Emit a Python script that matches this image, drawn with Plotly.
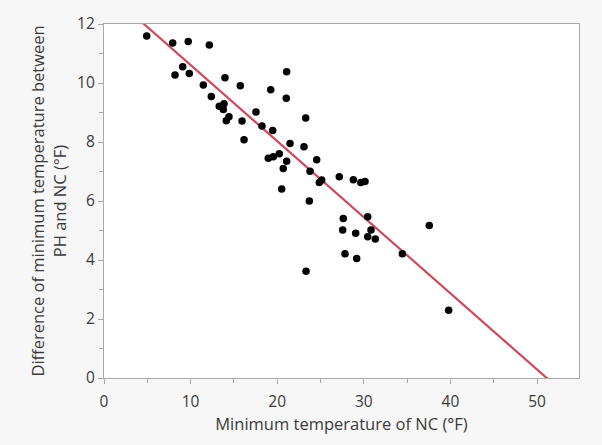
import plotly.graph_objects as go

nc_min_temp = [4.93, 7.93, 9.73, 12.16, 8.20, 9.09, 9.85, 11.47, 13.97, 15.74,
               12.39, 19.25, 21.09, 21.05, 13.31, 13.78, 13.86, 14.43, 14.12, 15.94,
               17.55, 18.24, 19.48, 23.29, 16.17, 21.48, 23.09, 18.97, 19.55, 20.24,
               21.09, 20.70, 24.56, 23.79, 25.14, 24.86, 20.52, 23.71, 27.17, 28.79,
               29.65, 30.14, 27.63, 30.45, 27.56, 30.83, 29.06, 30.45, 31.33, 37.56,
               27.83, 29.18, 34.45, 23.33, 39.80]
diff_min_temp = [11.59, 11.36, 11.41, 11.29, 10.27, 10.55, 10.32, 9.93, 10.18, 9.91,
                 9.54, 9.77, 10.38, 9.48, 9.21, 9.10, 9.30, 8.86, 8.72, 8.71,
                 9.02, 8.54, 8.39, 8.81, 8.08, 7.95, 7.84, 7.45, 7.50, 7.60,
                 7.35, 7.10, 7.40, 7.01, 6.71, 6.63, 6.41, 6.00, 6.82, 6.72,
                 6.63, 6.66, 5.41, 5.47, 5.02, 5.02, 4.91, 4.79, 4.71, 5.17,
                 4.21, 4.05, 4.21, 3.62, 2.30]

fit_intercept = 13.19
fit_slope = -0.258
fit_x = [0, 55]

x_ticks = [0, 10, 20, 30, 40, 50]
y_ticks = [0, 2, 4, 6, 8, 10, 12]

fit_y = [fit_intercept + fit_slope * v for v in fit_x]

font_family = "Open Sans, Noto Sans, sans-serif"
text_color = "#3a3a3a"
axis_color = "#a8a8a8"
tick_fs = 15.5
title_fs = 16.5

fig = go.Figure()
fig.add_trace(go.Scatter(
    x=fit_x, y=fit_y, mode="lines",
    line=dict(color="#cc4b5c", width=2.2),
    hoverinfo="skip", showlegend=False,
))
fig.add_trace(go.Scatter(
    x=nc_min_temp, y=diff_min_temp, mode="markers",
    marker=dict(color="black", size=7.5),
    showlegend=False,
))

fig.update_layout(
    width=602, height=445,
    margin=dict(l=104, r=23, t=22, b=67),
    paper_bgcolor="#f7f7f7",
    plot_bgcolor="white",
    font=dict(family=font_family, size=tick_fs, color=text_color),
)
fig.update_xaxes(
    range=[0, 54.85], tickvals=x_ticks, ticktext=[str(v) for v in x_ticks],
    showgrid=False, zeroline=False,
    showline=True, linecolor=axis_color, linewidth=1.3, mirror=True,
    ticks="outside", ticklen=5, tickcolor=axis_color, tickwidth=1,
    ticklabelstandoff=4,
    minor=dict(dtick=5, ticks="outside", ticklen=4, tickcolor=axis_color, tickwidth=1, showgrid=False),
    title=dict(text="Minimum temperature of NC (°F)", standoff=6,
               font=dict(size=title_fs, color=text_color)),
    tickfont=dict(size=tick_fs, color=text_color),
)
fig.update_yaxes(
    range=[0, 12], tickvals=y_ticks, ticktext=[str(v) for v in y_ticks],
    showgrid=False, zeroline=False,
    showline=True, linecolor=axis_color, linewidth=1.3, mirror=True,
    ticks="outside", ticklen=5, tickcolor=axis_color, tickwidth=1,
    minor=dict(dtick=1, ticks="outside", ticklen=4, tickcolor=axis_color, tickwidth=1, showgrid=False),
    title=dict(text="Difference of minimum temperature between<br>PH and NC (°F)", standoff=6,
               font=dict(size=title_fs, color=text_color)),
    tickfont=dict(size=tick_fs, color=text_color),
)

fig.write_html("out.html", config={"displayModeBar": False},
               post_script="document.body.style.margin='0px';document.body.style.overflow='hidden';")
